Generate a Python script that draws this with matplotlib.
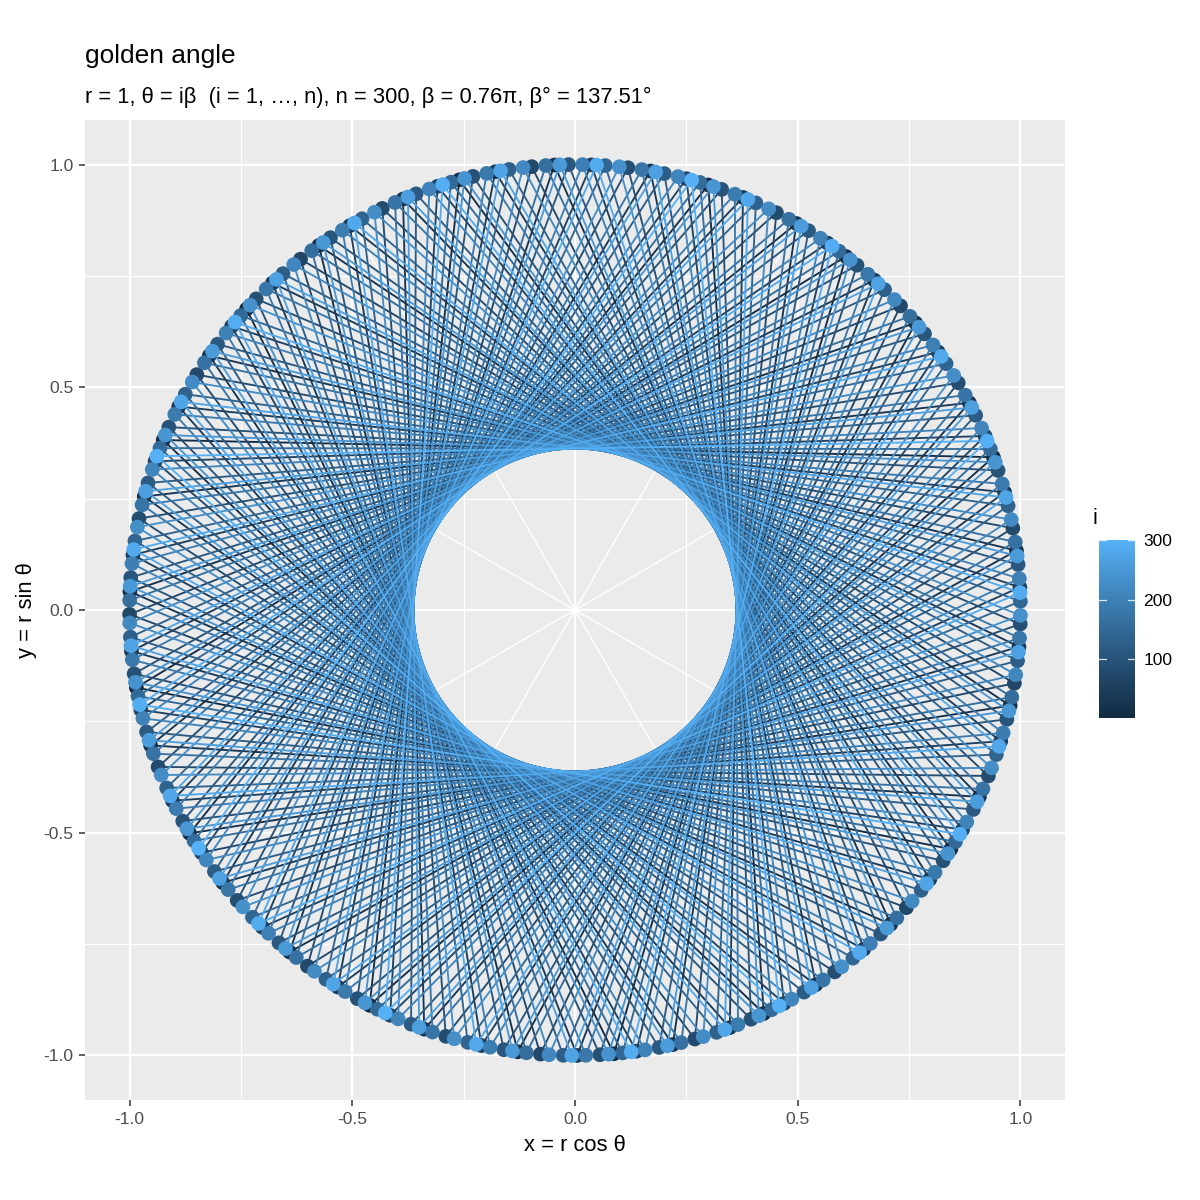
import numpy as np
import matplotlib
matplotlib.use("Agg")
import matplotlib.pyplot as plt
from matplotlib.collections import LineCollection
from matplotlib.colors import ListedColormap, Normalize

plt.rcParams['font.family'] = ['Liberation Sans', 'DejaVu Sans']

# ---- data ----
n = 300
beta_deg = 137.50776405          # golden angle, degrees
r = 1.0
idx = np.arange(1, n + 1)        # i = 1..n
theta = idx * np.deg2rad(beta_deg)
x = r * np.cos(theta)
y = r * np.sin(theta)
spoke_angles_deg = [30, 60, 120, 150, 210, 240, 300, 330]

title = "golden angle"
subtitle = "r = 1, θ = iβ  (i = 1, …, n), n = 300, β = 0.76π, β° = 137.51°"
xlabel = "x = r cos θ"
ylabel = "y = r sin θ"
ticks = [-1.0, -0.5, 0.0, 0.5, 1.0]
tick_labels = ["-1.0", "-0.5", "0.0", "0.5", "1.0"]
cbar_ticks = [100, 200, 300]

# ---- ggplot default gradient (Lab interpolation) ----
def srgb_to_lab(c):
    c = np.asarray(c, float)
    lin = np.where(c <= 0.04045, c / 12.92, ((c + 0.055) / 1.055) ** 2.4)
    M = np.array([[0.4124, 0.3576, 0.1805], [0.2126, 0.7152, 0.0722], [0.0193, 0.1192, 0.9505]])
    X, Y, Z = M @ lin
    Xn, Yn, Zn = 0.95047, 1.0, 1.08883
    def f(t):
        return np.where(t > (6/29)**3, np.cbrt(t), t / (3*(6/29)**2) + 4/29)
    fx, fy, fz = f(X/Xn), f(Y/Yn), f(Z/Zn)
    return np.array([116*fy - 16, 500*(fx - fy), 200*(fy - fz)])

def lab_to_srgb(lab):
    L, a, b = lab
    fy = (L + 16) / 116
    fx = fy + a / 500
    fz = fy - b / 200
    def finv(t):
        return np.where(t > 6/29, t**3, 3*(6/29)**2 * (t - 4/29))
    X, Y, Z = 0.95047*finv(fx), finv(fy), 1.08883*finv(fz)
    Minv = np.array([[3.2406, -1.5372, -0.4986], [-0.9689, 1.8758, 0.0415], [0.0557, -0.2040, 1.0570]])
    lin = Minv @ np.array([X, Y, Z])
    lin = np.clip(lin, 0, 1)
    return np.where(lin <= 0.0031308, 12.92*lin, 1.055*lin**(1/2.4) - 0.055)

def hex2rgb(h):
    return np.array([int(h[k:k+2], 16) / 255 for k in (1, 3, 5)])

lo = srgb_to_lab(hex2rgb("#132B43"))
hi = srgb_to_lab(hex2rgb("#56B1F7"))
cols = [np.clip(lab_to_srgb(lo + (hi - lo) * t), 0, 1) for t in np.linspace(0, 1, 256)]
cmap = ListedColormap(cols)
norm = Normalize(vmin=1, vmax=n)

# ---- figure ----
fig = plt.figure(figsize=(12, 12), dpi=100)
W = H = 1200.0
ax = fig.add_axes([85/W, (H-1100)/H, 980/W, 980/H])
ax.set_facecolor("#EBEBEB")
ax.set_xlim(-1.1, 1.1)
ax.set_ylim(-1.1, 1.1)
ax.set_aspect("equal")
for s in ax.spines.values():
    s.set_visible(False)

ax.set_xticks(ticks)
ax.set_yticks(ticks)
ax.set_xticklabels(tick_labels)
ax.set_yticklabels(tick_labels)
ax.set_xticks([-0.75, -0.25, 0.25, 0.75], minor=True)
ax.set_yticks([-0.75, -0.25, 0.25, 0.75], minor=True)
ax.grid(True, which="major", color="white", lw=1.6)
ax.grid(True, which="minor", color="white", lw=0.8)
ax.set_axisbelow(True)
ax.tick_params(which="major", length=4.3, width=1.1, color="#333333",
               labelsize=12.6, labelcolor="#4D4D4D", pad=4)
ax.tick_params(which="minor", length=0)

# white spokes from origin
for a in spoke_angles_deg:
    t = np.deg2rad(a)
    ax.plot([0, np.cos(t)], [0, np.sin(t)], color="white", lw=1.0, zorder=1)

# path coloured by i
pts = np.column_stack([x, y])
segs = np.stack([pts[:-1], pts[1:]], axis=1)
lc = LineCollection(segs, cmap=cmap, norm=norm, linewidths=1.35, zorder=2)
lc.set_array(idx[:-1])
ax.add_collection(lc)

# unit circle outline
tt = np.linspace(0, 2*np.pi, 721)
ax.plot(r*np.cos(tt), r*np.sin(tt), color="black", lw=1.4, zorder=2.5)

ax.scatter(x, y, c=idx, cmap=cmap, norm=norm, s=112, linewidths=0, zorder=3)

ax.set_xlabel(xlabel, fontsize=15.75, labelpad=6)
ax.set_ylabel(ylabel, fontsize=15.75, labelpad=5)

fig.text(85/W, 1 - 63/H, title, fontsize=18.9, ha="left", va="baseline")
fig.text(85/W, 1 - 103/H, subtitle, fontsize=15.75, ha="left", va="baseline")

# colour bar
cax = fig.add_axes([1099/W, (H-718)/H, 36/W, 178/H])
grad = np.linspace(1, n, 300).reshape(-1, 1)
cax.imshow(grad, cmap=cmap, norm=norm, aspect="auto", origin="lower",
           extent=[0, 1, 1, n])
cax.set_xlim(0, 1)
cax.set_ylim(1, n)
for s in cax.spines.values():
    s.set_visible(False)
cax.set_xticks([])
cax.yaxis.tick_right()
cax.set_yticks(cbar_ticks)
cax.set_yticklabels([str(v) for v in cbar_ticks])
cax.tick_params(axis="y", length=0, labelsize=12.6, labelcolor="black", pad=6)
for v in cbar_ticks:
    cax.plot([0, 0.2], [v, v], color="white", lw=0.9, alpha=0.8)
    cax.plot([0.8, 1], [v, v], color="white", lw=0.9, alpha=0.8)
fig.text(1093/W, 1 - 524/H, "i", fontsize=15.75, ha="left", va="baseline")

fig.savefig("out.png", dpi=100)
